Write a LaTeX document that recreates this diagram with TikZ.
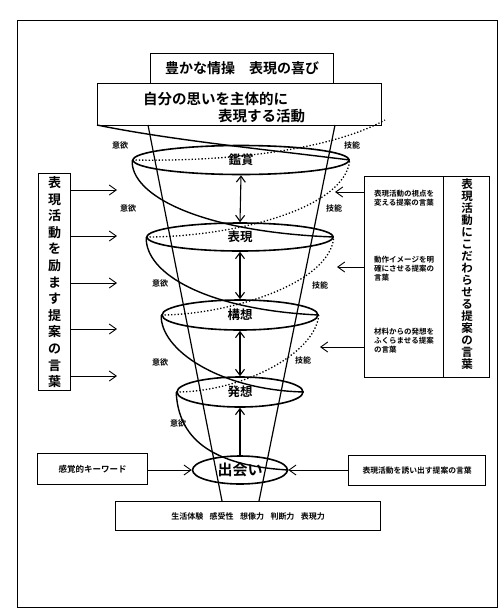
\documentclass[tikz,border=0pt]{standalone}
\usepackage{fontspec}
\setmainfont{Noto Sans CJK JP}[BoldFont={Noto Sans CJK JP Bold}]
\usetikzlibrary{shapes.geometric,arrows.meta}
\begin{document}
\begin{tikzpicture}[x=1pt,y=-1pt,font=\bfseries,
  box/.style={draw,line width=1.2pt,inner sep=0pt,anchor=north west},
  ell/.style={draw,ellipse,line width=1.6pt,inner sep=0pt},
  cone/.style={line width=1.2pt},
  spir/.style={line width=1.4pt},
  dots/.style={line width=1.3pt,dotted},
  arr/.style={line width=0.9pt,-{Straight Barb[length=7pt,width=10pt]}},
  darr/.style={line width=1.1pt,{Straight Barb[length=6pt,width=9pt]}-{Straight Barb[length=6pt,width=9pt]}},
  uarr/.style={line width=1.1pt,-{Straight Barb[length=6pt,width=9pt]}},
  lab/.style={font=\bfseries\fontsize{8}{9}\selectfont,inner sep=0pt}]
\useasboundingbox (0,0) rectangle (501,614);
% outer frame
\node[box,line width=0.8pt,minimum width=480pt,minimum height=587pt] (frame) at (17,20) {};
% top boxes
\node[box,minimum width=183pt,minimum height=30pt] (top1) at (150,53) {};
\node[font=\bfseries\fontsize{14}{16}\selectfont] (top1t) at (top1.center) {豊かな情操\hspace{1em}表現の喜び};
\node[box,fill=white,minimum width=284pt,minimum height=42pt] (top2) at (97,83) {};
\node[anchor=west,font=\bfseries\fontsize{14.5}{16}\selectfont,inner sep=0pt] (top2a) at (143,99) {自分の思いを主体的に};
\node[anchor=west,font=\bfseries\fontsize{14.5}{16}\selectfont,inner sep=0pt] (top2b) at (218,116) {表現する活動};
% bottom box
\node[box,minimum width=265pt,minimum height=29pt] (bot) at (115,501) {};
\node[font=\bfseries\fontsize{8}{9}\selectfont] (bott) at (bot.center) {生活体験\hspace{0.8em}感受性\hspace{0.8em}想像力\hspace{0.8em}判断力\hspace{0.8em}表現力};
% cone lines
\coordinate (cl1) at (148,125); \coordinate (cl2) at (222,501);
\coordinate (cr1) at (335,125); \coordinate (cr2) at (259,501);
\draw[cone] (cl1) -- (cl2);
\draw[cone] (cr1) -- (cr2);
% ellipses
\node[ell,minimum width=216pt,minimum height=29pt] (e1) at (241,160) {};
\node[ell,minimum width=186pt,minimum height=28pt] (e2) at (240,237) {};
\node[ell,minimum width=156pt,minimum height=30pt] (e3) at (240,315) {};
\node[ell,minimum width=126pt,minimum height=30pt] (e4) at (240,392) {};
\node[ell,minimum width=95pt,minimum height=28pt] (e5) at (240,470) {};
\node[font=\bfseries\fontsize{12.5}{14}\selectfont] (t1) at (e1.center) {鑑賞};
\node[font=\bfseries\fontsize{12.5}{14}\selectfont] (t2) at (e2.center) {表現};
\node[font=\bfseries\fontsize{12.5}{14}\selectfont] (t3) at (e3.center) {構想};
\node[font=\bfseries\fontsize{12.5}{14}\selectfont] (t4) at (e4.center) {発想};
\node[font=\bfseries\fontsize{15}{16}\selectfont] (t5) at (e5.center) {出会い};
% spiral (solid)
\coordinate (s0) at (97,125);
\draw[spir] (s0) .. controls (170,140) and (270,150) .. (e1.east);
\draw[spir] (e1.west) .. controls (130,195) and (200,232) .. (e2.east);
\draw[spir] (e2.west) .. controls (145,275) and (210,310) .. (e3.east);
\draw[spir] (e3.west) .. controls (160,350) and (220,390) .. (e4.east);
\draw[spir] (e4.west) .. controls (178,430) and (200,465) .. (e5.east);
% spiral (dotted)
\coordinate (d0) at (385,120);
\draw[dots] (e1.west) .. controls (250,162) and (340,145) .. (d0);
\draw[dots] (e2.west) .. controls (230,237) and (345,210) .. (e1.east);
\draw[dots] (e3.west) .. controls (225,315) and (330,285) .. (e2.east);
\draw[dots] (e4.west) .. controls (240,392) and (315,355) .. (e3.east);
% vertical arrows
\draw[darr] (e1.south) -- (e2.north);
\draw[darr] (e2.south) -- (e3.north);
\draw[darr] (e3.south) -- (e4.north);
\draw[uarr] (e5.north) -- (e4.south);
% labels
\node[lab] (i1) at (120,145) {意欲};
\node[lab] (i2) at (128,208) {意欲};
\node[lab] (i3) at (160,283) {意欲};
\node[lab] (i4) at (160,362) {意欲};
\node[lab] (i5) at (178,423) {意欲};
\node[lab] (g1) at (352,145) {技能};
\node[lab] (g2) at (334,208) {技能};
\node[lab] (g3) at (320,285) {技能};
\node[lab] (g4) at (303,360) {技能};
% left box
\node[box,minimum width=32pt,minimum height=217pt] (lb) at (38,173) {};
\node[align=center,font=\bfseries\fontsize{13}{16.6}\selectfont,inner sep=0pt] (lbt) at (lb.center) {表\\現\\活\\動\\を\\励\\ま\\す\\提\\案\\の\\言\\葉};
\foreach \y [count=\i] in {190,236,283,329,376}{
  \coordinate (la\i) at (117,\y);
  \draw[arr] (lb.east |- la\i) -- (la\i);
}
% right box
\node[box,minimum width=79pt,minimum height=201pt] (rb1) at (364,176) {};
\node[box,minimum width=46pt,minimum height=201pt] (rb2) at (443,176) {};
\node[align=center,font=\bfseries\fontsize{11.5}{12}\selectfont,inner sep=0pt] (rbt) at (467,274) {表\\現\\活\\動\\に\\こ\\だ\\わ\\ら\\せ\\る\\提\\案\\の\\言\\葉};
\node[anchor=north west,align=left,font=\bfseries\fontsize{7.5}{9}\selectfont,inner sep=0pt] (r1) at (374,190) {表現活動の視点を\\変える提案の言葉};
\node[anchor=north west,align=left,font=\bfseries\fontsize{7.5}{9}\selectfont,inner sep=0pt] (r2) at (374,256) {動作イメージを明\\確にさせる提案の\\言葉};
\node[anchor=north west,align=left,font=\bfseries\fontsize{7.5}{9}\selectfont,inner sep=0pt] (r3) at (374,328) {材料からの発想を\\ふくらませる提案\\の言葉};
\coordinate (ra1) at (335,192);
\coordinate (ra2) at (337,267);
\coordinate (ra3) at (320,347);
\foreach \i in {1,2,3}{ \draw[arr] (rb1.west |- ra\i) -- (ra\i); }
% bottom side boxes
\node[box,minimum width=110pt,minimum height=31pt] (bl) at (37,453) {};
\node[font=\bfseries\fontsize{8.5}{9}\selectfont] (blt) at (bl.center) {感覚的キーワード};
\node[box,minimum width=137pt,minimum height=30pt] (br) at (348,455) {};
\node[font=\bfseries\fontsize{7.8}{9}\selectfont] (brt) at (br.center) {表現活動を誘い出す提案の言葉};
\draw[arr] (bl.east |- e5.west) -- (e5.west);
\draw[arr] (br.west |- e5.east) -- (e5.east);
\end{tikzpicture}
\end{document}
